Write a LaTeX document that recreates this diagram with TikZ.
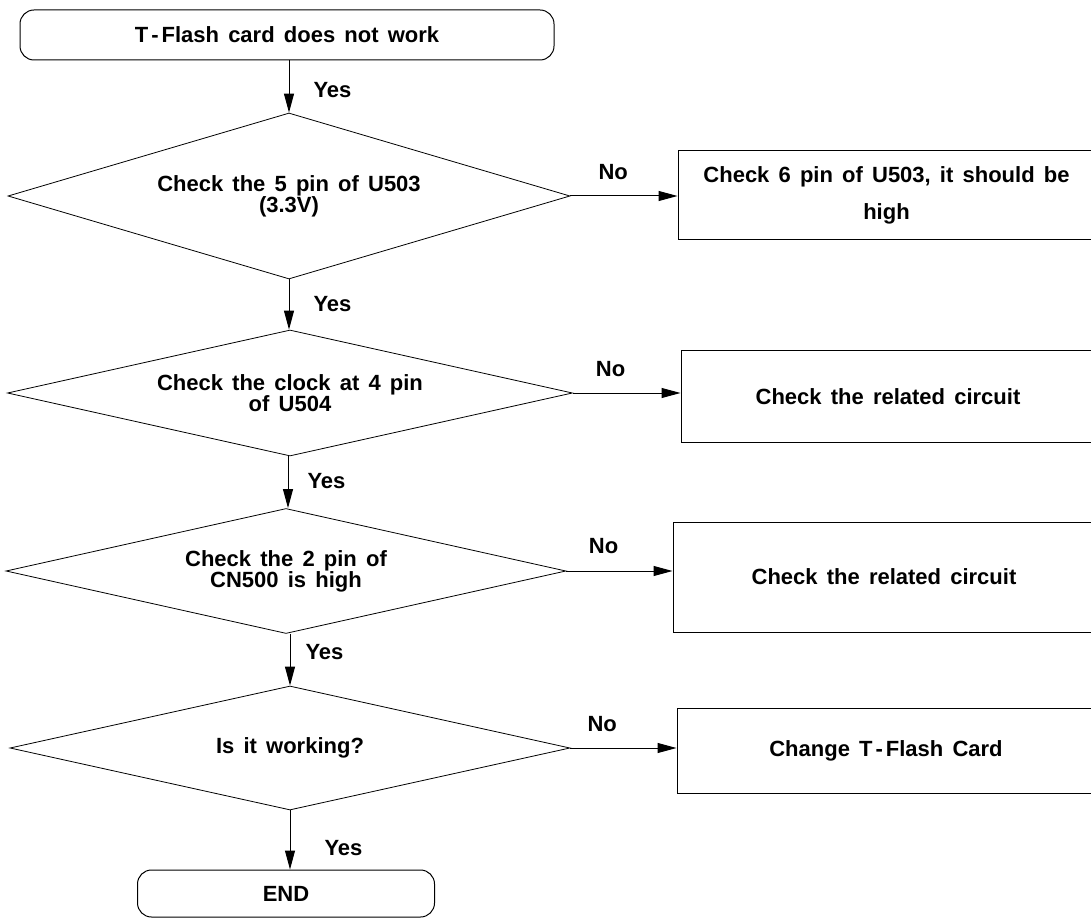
\documentclass[tikz,border=0pt]{standalone}
\usepackage{fontspec}
\setmainfont{Liberation Sans}[WordSpace={1.5}]
\usetikzlibrary{shapes.geometric,arrows.meta}
\begin{document}
\begin{tikzpicture}[x=0.5pt,y=-0.5pt,
  every node/.style={font=\bfseries\fontsize{11}{10.5}\selectfont},
  term/.style={draw, rounded corners=7pt, line width=0.5pt, inner sep=0pt},
  dec/.style={draw, diamond, inner sep=0pt, line width=0.4pt, align=center},
  proc/.style={draw, rectangle, line width=0.5pt, inner sep=0pt, align=center},
  arr/.style={-{Triangle[length=9.5pt,width=5pt]}, line width=0.5pt},
  lbl/.style={inner sep=0pt}]
\useasboundingbox (0,0) rectangle (1091,919);

\node[term, minimum width=267pt, minimum height=25pt] (start) at (287,35)
  {T\kern1.5pt-\kern1.5pt Flash card does not work};

\node[dec, aspect=3.386, minimum width=281pt, minimum height=83pt] (d1) at (289,196)
  {Check the 5 pin of U503\\(3.3V)};
\node[proc, minimum width=208.5pt, minimum height=44.5pt,
      font=\bfseries\fontsize{11}{18.5}\selectfont] (b1) at (886.5,195.5)
  {Check 6 pin of U503, it should be\\high};

\node[dec, aspect=4.484, minimum width=282.5pt, minimum height=63pt] (d2) at (290,393)
  {Check the clock at 4 pin\\of U504};
\node[proc, minimum width=207pt, minimum height=45.5pt] (b2) at (888,396.5)
  {Check the related circuit};

\node[dec, aspect=4.48, minimum width=280pt, minimum height=62.5pt] (d3) at (286,571)
  {Check the 2 pin of\\CN500 is high};
\node[proc, minimum width=211pt, minimum height=55pt] (b3) at (884,577)
  {Check the related circuit};

\node[dec, aspect=4.516, minimum width=280pt, minimum height=62pt] (d4) at (290,748)
  {Is it working?};
\node[proc, minimum width=209pt, minimum height=42.5pt] (b4) at (886,750.5)
  {Change T\kern1.5pt-\kern1.5pt Flash Card};

\node[term, minimum width=148.5pt, minimum height=23.5pt] (end) at (286,893.5)
  {END};

% vertical connectors
\draw[arr] (start.south -| d1.north) -- node[lbl, anchor=west, pos=0.57, xshift=12pt]{Yes} (d1.north);
\draw[arr] (d1.south) -- node[lbl, anchor=west, pos=0.49, xshift=12pt]{Yes} (d1.south |- d2.north);
\draw[arr] (d2.south -| 288,0) -- node[lbl, anchor=west, pos=0.48, xshift=9.5pt]{Yes} (d3.north -| 288,0);
\draw[arr] (d3.south -| 290,0) -- node[lbl, anchor=west, pos=0.36, xshift=7.5pt]{Yes} (d4.north);
\draw[arr] (d4.south) -- node[lbl, anchor=west, pos=0.63, xshift=17pt]{Yes} (d4.south |- end.north);

% horizontal connectors
\draw[arr] (d1.east) -- node[lbl, anchor=south, pos=0.4, yshift=8pt]{No} (d1.east -| b1.west);
\draw[arr] (d2.east) -- node[lbl, anchor=south, pos=0.35, yshift=8pt]{No} (d2.east -| b2.west);
\draw[arr] (d3.east) -- node[lbl, anchor=south, pos=0.35, yshift=8.5pt]{No} (d3.east -| b3.west);
\draw[arr] (d4.east) -- node[lbl, anchor=south, pos=0.3, yshift=8pt]{No} (d4.east -| b4.west);
\end{tikzpicture}
\end{document}
